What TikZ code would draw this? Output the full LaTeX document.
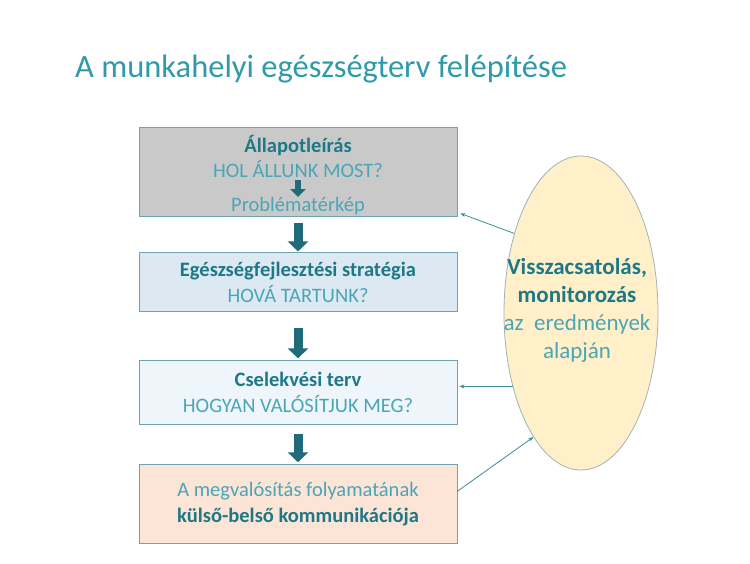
\documentclass[tikz,border=0pt]{standalone}
\usepackage{fontspec}
\setmainfont{Carlito}
\usepackage{xcolor}
\usepackage{tikz}
\usetikzlibrary{
arrows.meta,
positioning,
shapes.geometric
}

\definecolor{titleteal}{HTML}{2E9AAA}
\definecolor{darkteal}{HTML}{1E7886}
\definecolor{lightteal}{HTML}{4AA6B6}
\definecolor{arrowteal}{HTML}{1F6B7A}
\definecolor{thinteal}{HTML}{3E8C9A}
\definecolor{boxline}{HTML}{6FA3AF}
\definecolor{grayfill}{HTML}{C9C9C9}
\definecolor{bluefill}{HTML}{DCE8F2}
\definecolor{palefill}{HTML}{EEF5FB}
\definecolor{peachfill}{HTML}{FCE4D6}
\definecolor{yellowfill}{HTML}{FFF0C9}
\definecolor{ovalline}{HTML}{9DB5B5}

\newcommand{\hd}[1]{\textbf{\textcolor{darkteal}{#1}}}

\begin{document}
\begin{tikzpicture}[
x=1pt,y=-1pt,
box/.style={
draw=boxline,
line width=0.9pt,
minimum width=318pt,
inner sep=0pt,
align=center,
text=lightteal,
font=\fontsize{20.5}{26}\selectfont
},
label/.style={
inner sep=0pt,
align=center,
text=lightteal,
font=\fontsize{20.5}{25}\selectfont
},
bigarrow/.style={-{Triangle[width=20pt,length=10pt]},line width=9pt,draw=arrowteal},
smallarrow/.style={-{Triangle[width=15pt,length=8pt]},line width=6pt,draw=arrowteal},
feedback/.style={-{Stealth[length=5pt,width=4pt]},line width=0.8pt,draw=thinteal}
]
\useasboundingbox[fill=white] (0,0) rectangle (750,563);

\node[anchor=base west,inner sep=0pt,text=titleteal,font=\fontsize{32.5}{38}\selectfont]
  (title) at (75,77) {A munkahelyi egészségterv felépítése};

% left column
\node[box,fill=grayfill,minimum height=89pt] (state) at (298,171.5) {};
\node[label] (statetxt) at (298,156) {\hd{Állapotleírás}\\HOL ÁLLUNK MOST?};
\node[label] (problem) at (298,206) {Problématérkép};

\node[box,fill=bluefill,minimum height=59pt,below=36pt of state] (strategy)
  {\hd{Egészségfejlesztési stratégia}\\HOVÁ TARTUNK?};
\node[box,fill=palefill,minimum height=64pt,below=48pt of strategy] (plan)
  {\hd{Cselekvési terv}\\HOGYAN VALÓSÍTJUK MEG?};
\node[box,fill=peachfill,minimum height=79pt,below=39pt of plan] (comm)
  {A megvalósítás folyamatának\\\hd{külső-belső kommunikációja}};

% feedback oval
\node[ellipse,draw=ovalline,line width=0.8pt,fill=yellowfill,
  minimum width=154pt,minimum height=314pt,inner sep=0pt] (fb) at (581,313) {};
\node[label,font=\fontsize{23}{28}\selectfont] (fbtxt) at ([xshift=-4pt,yshift=3pt]fb.center)
  {\hd{Visszacsatolás,}\\\hd{monitorozás}\\az\ \ eredmények\\alapján};

\draw[smallarrow,shorten <=3pt,shorten >=0pt] (statetxt) -- (problem);
\draw[bigarrow,shorten <=7pt,shorten >=1pt] (state) -- (strategy);
\draw[bigarrow,shorten <=16pt,shorten >=2pt] (strategy) -- (plan);
\draw[bigarrow,shorten <=9pt,shorten >=2pt] (plan) -- (comm);

\draw[feedback] (fb.130) -- ([xshift=3pt,yshift=3pt]state.south east);
\draw[feedback] (fb.227) -- ([xshift=2pt]fb.227 -| plan.east);
\draw[feedback] ([yshift=13pt]comm.east) -- (fb.249);

\end{tikzpicture}
\end{document}
